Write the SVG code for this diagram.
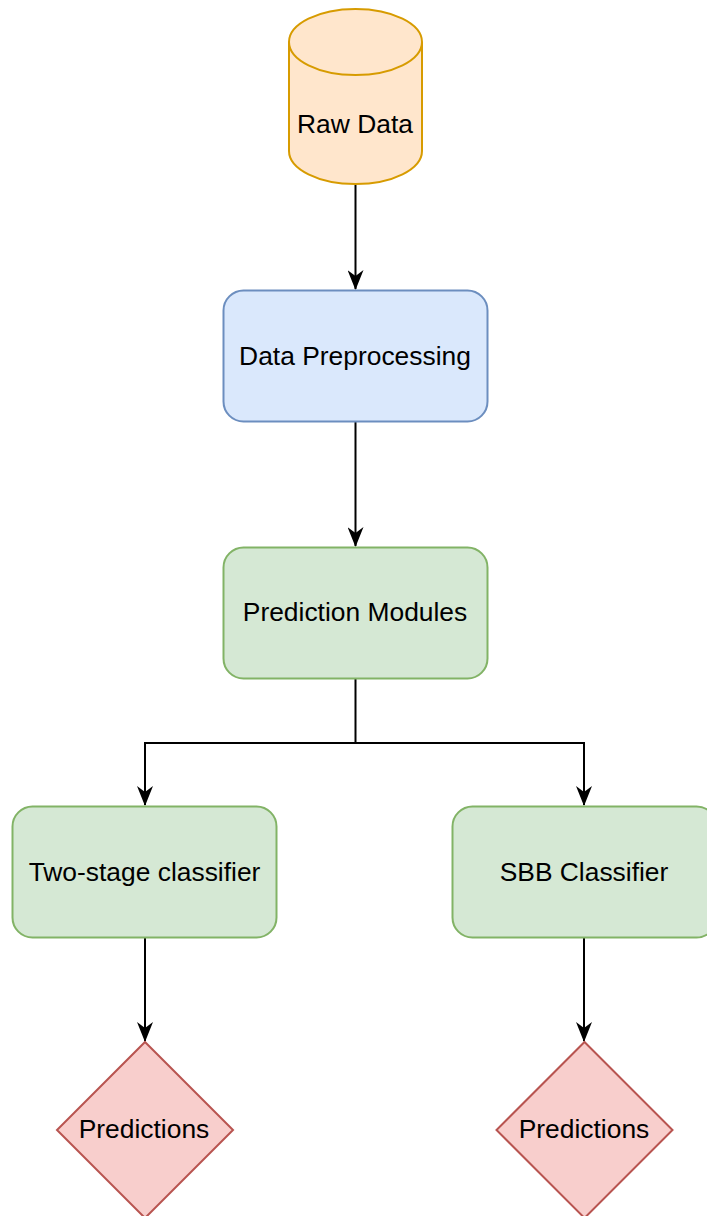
<svg xmlns="http://www.w3.org/2000/svg" width="707" height="1216" viewBox="0 0 707 1216">
<style>
text{font-family:"Liberation Sans",Arial,sans-serif;font-size:26.4px;fill:#000;text-anchor:middle}
.edge{fill:none;stroke:#000;stroke-width:2}
.blue{fill:#dae8fc;stroke:#6c8ebf;stroke-width:2}
.green{fill:#d5e8d4;stroke:#82b366;stroke-width:2}
.red{fill:#f8cecc;stroke:#b85450;stroke-width:2}
.orange{fill:#ffe6cc;stroke:#d79b00;stroke-width:2}
</style>
<defs>
<marker id="arr" viewBox="0 0 20 16" refX="19" refY="8" markerWidth="20" markerHeight="16" markerUnits="userSpaceOnUse" orient="auto">
<path d="M0,0 L20,8 L0,16 L6,8 Z" fill="#000"/>
</marker>
</defs>
<rect width="707" height="1216" fill="#fff"/>
<g id="connectors">
<path class="edge" d="M355.5,185 V289" marker-end="url(#arr)"/>
<path class="edge" d="M355.5,422 V546" marker-end="url(#arr)"/>
<path class="edge" d="M355.5,679 V743 H145 V805" marker-end="url(#arr)"/>
<path class="edge" d="M355.5,743 H584 V805" marker-end="url(#arr)"/>
<path class="edge" d="M145,938 V1041" marker-end="url(#arr)"/>
<path class="edge" d="M584,938 V1041" marker-end="url(#arr)"/>
</g>
<g id="raw-data">
<path class="orange" d="M289,42 A66.5,33 0 0 1 422,42 V151 A66.5,33 0 0 1 289,151 Z"/>
<path class="orange" d="M289,42 A66.5,33 0 0 0 422,42" fill="none"/>
<text x="355" y="133">Raw Data</text>
</g>
<g id="data-preprocessing">
<rect class="blue" x="223.5" y="290.5" width="264" height="131" rx="20"/>
<text x="355" y="365">Data Preprocessing</text>
</g>
<g id="prediction-modules">
<rect class="green" x="223.5" y="547.5" width="264" height="131" rx="20"/>
<text x="355" y="621">Prediction Modules</text>
</g>
<g id="two-stage">
<rect class="green" x="12.5" y="806.5" width="264" height="131" rx="20"/>
<text x="144.5" y="881">Two-stage classifier</text>
</g>
<g id="sbb">
<rect class="green" x="452.5" y="806.5" width="264" height="131" rx="20"/>
<text x="584" y="881">SBB Classifier</text>
</g>
<g id="predictions-left">
<path class="red" d="M145,1042 L233,1130 L145,1218 L57,1130 Z"/>
<text x="144" y="1138">Predictions</text>
</g>
<g id="predictions-right">
<path class="red" d="M584.5,1042 L672.5,1130 L584.5,1218 L496.5,1130 Z"/>
<text x="584" y="1138">Predictions</text>
</g>
</svg>
